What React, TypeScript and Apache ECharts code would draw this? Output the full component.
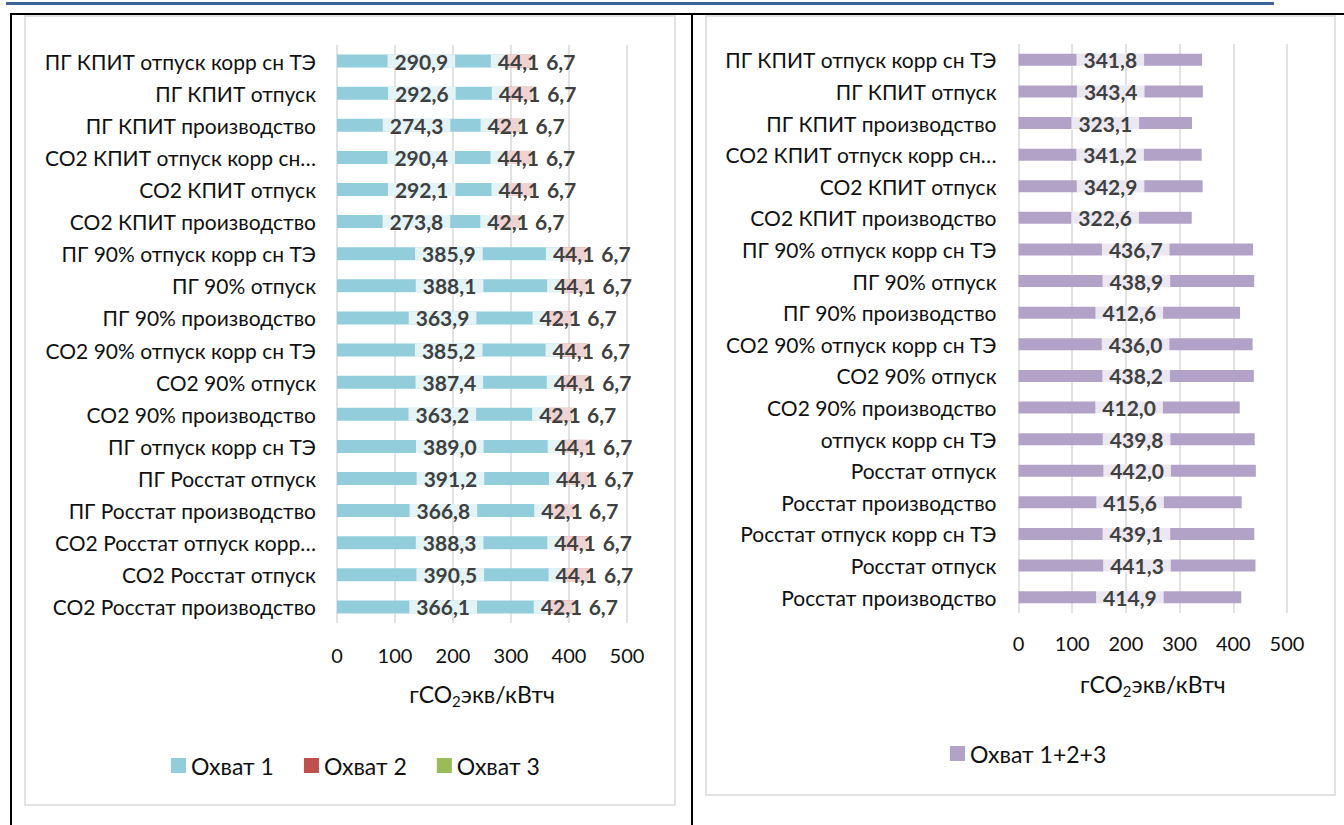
import React, { useEffect, useRef } from "react";
import * as echarts from "echarts";

const leftCategories = [
  "ПГ КПИТ отпуск корр сн ТЭ",
  "ПГ КПИТ отпуск",
  "ПГ КПИТ производство",
  "СО2 КПИТ отпуск корр сн…",
  "СО2 КПИТ отпуск",
  "СО2 КПИТ производство",
  "ПГ 90% отпуск корр сн ТЭ",
  "ПГ 90% отпуск",
  "ПГ 90% производство",
  "СО2 90% отпуск корр сн ТЭ",
  "СО2 90% отпуск",
  "СО2 90% производство",
  "ПГ отпуск корр сн ТЭ",
  "ПГ Росстат отпуск",
  "ПГ Росстат производство",
  "СО2 Росстат отпуск корр…",
  "СО2 Росстат отпуск",
  "СО2 Росстат производство",
];
const scope1 = [290.9, 292.6, 274.3, 290.4, 292.1, 273.8, 385.9, 388.1, 363.9, 385.2, 387.4, 363.2, 389.0, 391.2, 366.8, 388.3, 390.5, 366.1];
const scope2 = [44.1, 44.1, 42.1, 44.1, 44.1, 42.1, 44.1, 44.1, 42.1, 44.1, 44.1, 42.1, 44.1, 44.1, 42.1, 44.1, 44.1, 42.1];
const scope3 = [6.7, 6.7, 6.7, 6.7, 6.7, 6.7, 6.7, 6.7, 6.7, 6.7, 6.7, 6.7, 6.7, 6.7, 6.7, 6.7, 6.7, 6.7];

const rightCategories = [
  "ПГ КПИТ отпуск корр сн ТЭ",
  "ПГ КПИТ отпуск",
  "ПГ КПИТ производство",
  "СО2 КПИТ отпуск корр сн…",
  "СО2 КПИТ отпуск",
  "СО2 КПИТ производство",
  "ПГ 90% отпуск корр сн ТЭ",
  "ПГ 90% отпуск",
  "ПГ 90% производство",
  "СО2 90% отпуск корр сн ТЭ",
  "СО2 90% отпуск",
  "СО2 90% производство",
  "отпуск корр сн ТЭ",
  "Росстат отпуск",
  "Росстат производство",
  "Росстат отпуск корр сн ТЭ",
  "Росстат отпуск",
  "Росстат производство",
];
const scopeTotal = [341.8, 343.4, 323.1, 341.2, 342.9, 322.6, 436.7, 438.9, 412.6, 436.0, 438.2, 412.0, 439.8, 442.0, 415.6, 439.1, 441.3, 414.9];

const xTicks = [0, 100, 200, 300, 400, 500];
const seriesNames = ["Охват 1", "Охват 2", "Охват 3", "Охват 1+2+3"];

const FONT = "Lato";
const TEXT = "#111111";
const fmt = (v: number) => v.toFixed(1).replace(".", ",");

const valueLabel = (extra: any = {}) => ({
  show: true,
  position: "inside",
  formatter: (p: any) => fmt(p.value),
  color: "#404040",
  fontFamily: FONT,
  fontSize: 21,
  fontWeight: "bold",
  backgroundColor: "rgba(255,255,255,0.75)",
  padding: [0, 7],
  lineHeight: 13,
  textBorderWidth: 0,
  ...extra,
});

const xAxisCommon = (gridIndex: number, gap: number, margin: number) => ({
  type: "value",
  gridIndex,
  min: xTicks[0],
  max: xTicks[xTicks.length - 1],
  interval: xTicks[1] - xTicks[0],
  axisLine: { show: false },
  axisTick: { show: false },
  splitLine: { show: true, lineStyle: { color: "#d9d9d9", width: 1.5 } },
  axisLabel: { color: TEXT, fontFamily: FONT, fontSize: 20, margin },
  name: "{a|гCO}{s|2}{a|экв/кВтч}",
  nameLocation: "middle",
  nameGap: gap,
  nameTextStyle: {
    fontFamily: FONT,
    fontSize: 23,
    color: TEXT,
    rich: {
      a: { fontFamily: FONT, fontSize: 23, color: TEXT },
      s: { fontFamily: FONT, fontSize: 15, color: TEXT, padding: [13, 0, 0, 0] },
    },
  },
});

const yAxisCommon = (gridIndex: number, data: string[], margin: number) => ({
  type: "category",
  gridIndex,
  data,
  inverse: true,
  axisLine: { show: false },
  axisTick: { show: false },
  axisLabel: { color: TEXT, fontFamily: FONT, fontSize: 21, margin },
});

export default function App() {
  const ref = useRef<HTMLDivElement>(null);
  useEffect(() => {
    if (!ref.current) return;
    const chart = echarts.init(ref.current, undefined, { renderer: "svg" });
    chart.setOption({
      animation: false,
      backgroundColor: "#ffffff",
      graphic: [
        { type: "rect", shape: { x: 6, y: 2, width: 1268, height: 3 }, style: { fill: "#3b6596" }, z: -10 },
        { type: "rect", shape: { x: 10, y: 13, width: 1334, height: 2 }, style: { fill: "#000" }, z: -10 },
        { type: "rect", shape: { x: 10, y: 13, width: 2, height: 812 }, style: { fill: "#000" }, z: -10 },
        { type: "rect", shape: { x: 691, y: 13, width: 2, height: 812 }, style: { fill: "#000" }, z: -10 },
        { type: "rect", shape: { x: 25, y: 16, width: 650, height: 789 }, style: { fill: "#fff", stroke: "#d9d9d9", lineWidth: 1.5 }, z: -9 },
        { type: "rect", shape: { x: 706, y: 16, width: 629, height: 779 }, style: { fill: "#fff", stroke: "#d9d9d9", lineWidth: 1.5 }, z: -9 },
      ],
      legend: [
        {
          data: [seriesNames[0], seriesNames[1], seriesNames[2]],
          left: 166,
          top: 749,
          icon: "rect",
          itemWidth: 15,
          itemHeight: 15,
          itemGap: 30,
          textStyle: { fontFamily: FONT, fontSize: 23, color: TEXT },
        },
        {
          data: [seriesNames[3]],
          left: 945,
          top: 737,
          icon: "rect",
          itemWidth: 15,
          itemHeight: 15,
          textStyle: { fontFamily: FONT, fontSize: 23, color: TEXT },
        },
      ],
      grid: [
        { left: 337, width: 290, top: 45, height: 578, containLabel: false },
        { left: 1018.5, width: 268.5, top: 44, height: 569, containLabel: false },
      ],
      xAxis: [xAxisCommon(0, 57, 22), xAxisCommon(1, 57, 20)],
      yAxis: [yAxisCommon(0, leftCategories, 21), yAxisCommon(1, rightCategories, 22)],
      series: [
        {
          name: seriesNames[0],
          type: "bar",
          stack: "a",
          xAxisIndex: 0,
          yAxisIndex: 0,
          data: scope1,
          barWidth: 13,
          itemStyle: { color: "#92cddc" },
          label: valueLabel(),
        },
        {
          name: seriesNames[1],
          type: "bar",
          stack: "a",
          xAxisIndex: 0,
          yAxisIndex: 0,
          data: scope2,
          barWidth: 13,
          itemStyle: { color: "#c0504d" },
          label: valueLabel(),
        },
        {
          name: seriesNames[2],
          type: "bar",
          stack: "a",
          xAxisIndex: 0,
          yAxisIndex: 0,
          data: scope3,
          barWidth: 13,
          itemStyle: { color: "#9bbb59" },
          label: valueLabel({ position: "right", distance: 4, backgroundColor: "transparent" }),
        },
        {
          name: seriesNames[3],
          type: "bar",
          xAxisIndex: 1,
          yAxisIndex: 1,
          data: scopeTotal,
          barWidth: 12,
          itemStyle: { color: "#b3a2c7" },
          label: valueLabel(),
        },
      ],
    });
    return () => chart.dispose();
  }, []);
  return (
    <div
      ref={ref}
      style={{ position: "fixed", left: 0, top: 0, width: 1344, height: 825, background: "#fff" }}
    />
  );
}
